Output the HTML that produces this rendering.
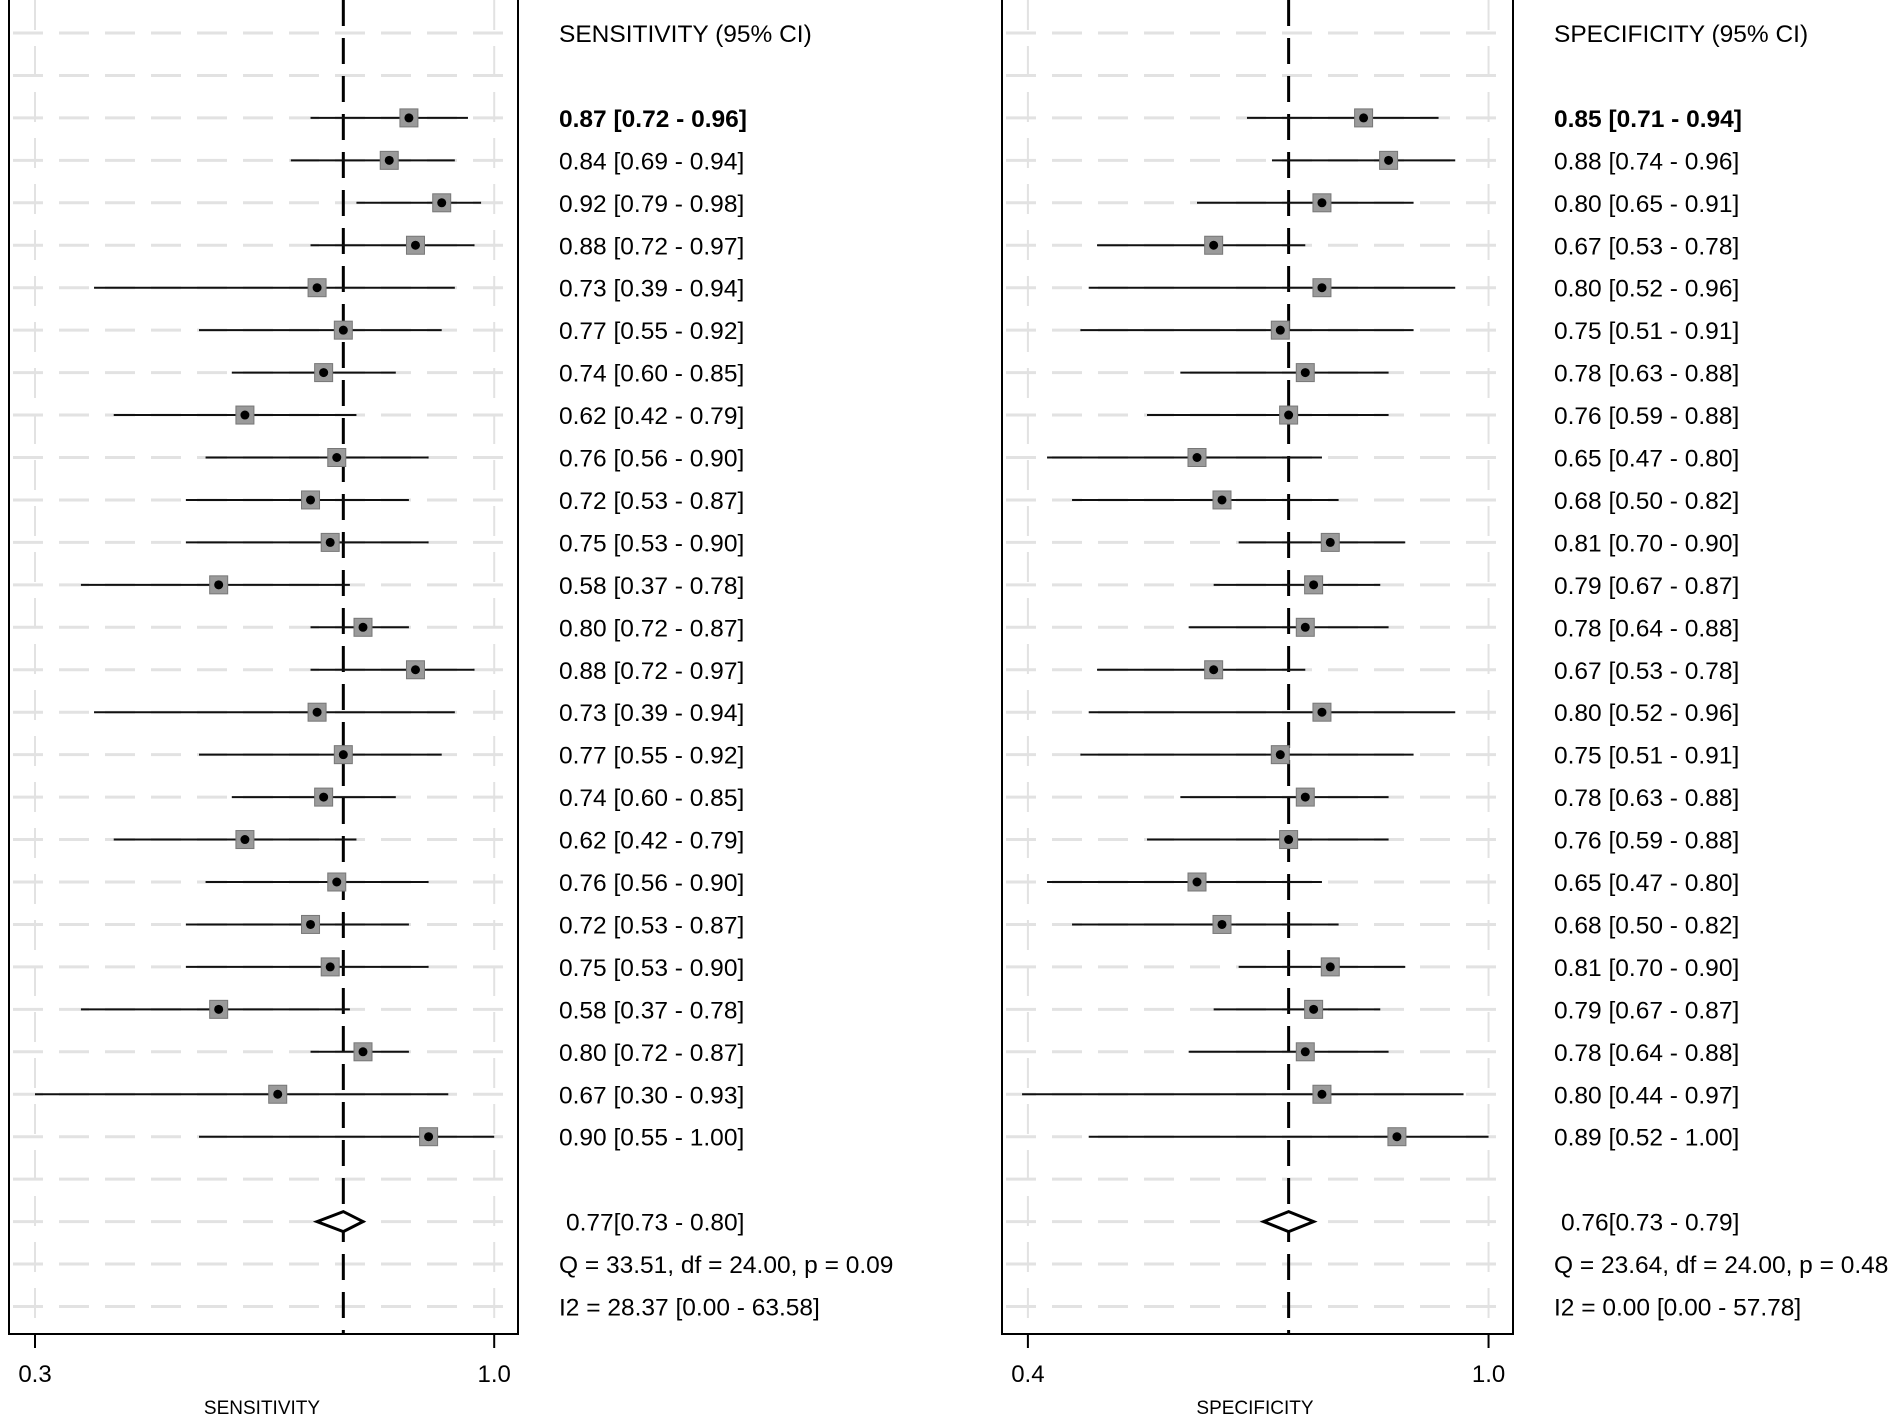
<!DOCTYPE html>
<html><head><meta charset="utf-8">
<style>
html,body{margin:0;padding:0;background:#fff;}
svg{display:block;font-family:"Liberation Sans",Arial,sans-serif;}
</style></head>
<body>
<svg id="chart" width="1902" height="1420" viewBox="0 0 1902 1420"></svg>
<script>
const sensEst=[0.87,0.84,0.92,0.88,0.73,0.77,0.74,0.62,0.76,0.72,0.75,0.58,0.80,0.88,0.73,0.77,0.74,0.62,0.76,0.72,0.75,0.58,0.80,0.67,0.90];
const sensLo=[0.72,0.69,0.79,0.72,0.39,0.55,0.60,0.42,0.56,0.53,0.53,0.37,0.72,0.72,0.39,0.55,0.60,0.42,0.56,0.53,0.53,0.37,0.72,0.30,0.55];
const sensHi=[0.96,0.94,0.98,0.97,0.94,0.92,0.85,0.79,0.90,0.87,0.90,0.78,0.87,0.97,0.94,0.92,0.85,0.79,0.90,0.87,0.90,0.78,0.87,0.93,1.00];
const specEst=[0.85,0.88,0.80,0.67,0.80,0.75,0.78,0.76,0.65,0.68,0.81,0.79,0.78,0.67,0.80,0.75,0.78,0.76,0.65,0.68,0.81,0.79,0.78,0.80,0.89];
const specLo=[0.71,0.74,0.65,0.53,0.52,0.51,0.63,0.59,0.47,0.50,0.70,0.67,0.64,0.53,0.52,0.51,0.63,0.59,0.47,0.50,0.70,0.67,0.64,0.44,0.52];
const specHi=[0.94,0.96,0.91,0.78,0.96,0.91,0.88,0.88,0.80,0.82,0.90,0.87,0.88,0.78,0.96,0.91,0.88,0.88,0.80,0.82,0.90,0.87,0.88,0.97,1.00];
const sensSummary=[0.77,0.73,0.80];
const specSummary=[0.76,0.73,0.79];
const sensTickVals=[0.3,1.0];
const sensTickLabels=["0.3","1.0"];
const specTickVals=[0.447,1.0];
const specTickLabels=["0.4","1.0"];
const sensStats=["Q = 33.51, df = 24.00, p =  0.09","I2 = 28.37 [0.00 - 63.58]"];
const specStats=["Q = 23.64, df = 24.00, p =  0.48","I2 = 0.00 [0.00 - 57.78]"];

const NS="http://www.w3.org/2000/svg";
const svg=document.getElementById('chart');
function mk(t,a,p){const e=document.createElementNS(NS,t);for(const k in a)e.setAttribute(k,a[k]);(p||svg).appendChild(e);return e;}
const rowY=k=>33+k*42.45;
const f2=v=>v.toFixed(2);
const FS=24.5;

function panel(cfg){
  const g=mk('g',{});
  
  
  const x=v=>cfg.x0+(v-cfg.v0)*cfg.slope;
  const bottom=1334;
  for(let k=0;k<=30;k++){
    const l=mk('line',{x1:cfg.left+4,x2:cfg.right-4,y1:rowY(k),y2:rowY(k),stroke:'#e2e2e2','stroke-width':3,'stroke-dasharray':'30 16'},g);
    
    
  }
  cfg.ticks.forEach(t=>{
    const l=mk('line',{x1:x(t),x2:x(t),y1:0,y2:bottom,stroke:'#e2e2e2','stroke-width':2,'stroke-dasharray':'30 16'},g);
    
    
  });
  const fr=mk('path',{d:`M${cfg.left} 0 V${bottom} H${cfg.right} V0`,fill:'none',stroke:'#000','stroke-width':2},g);
  
  
  const rl=mk('line',{x1:x(cfg.summary[0]),x2:x(cfg.summary[0]),y1:0,y2:bottom,stroke:'#000','stroke-width':3,'stroke-dasharray':'26 12'},g);
  
  
  cfg.ticks.forEach((t,i)=>{
    const tk=mk('line',{x1:x(t),x2:x(t),y1:bottom,y2:bottom+14,stroke:'#000','stroke-width':2},g);
    
    
    const tl=mk('text',{x:x(t),y:1382,'font-size':24,'text-anchor':'middle',fill:'#000'},g);
    tl.textContent=cfg.tickLabels[i];
    
    
  });
  const at=mk('text',{x:cfg.titleX,y:1414,'font-size':19,'text-anchor':'middle',fill:'#000'},g);
  at.textContent=cfg.title;
  
  
  const hd=mk('text',{x:cfg.textX,y:42,'font-size':FS,fill:'#000'},g);
  hd.textContent=cfg.title+' (95% CI)';
  
  
  cfg.est.forEach((e,i)=>{
    const y=rowY(i+2);
    const ci=mk('line',{x1:x(cfg.lo[i]),x2:x(cfg.hi[i]),y1:y,y2:y,stroke:'#111','stroke-width':2},g);
    
    
    const sq=mk('rect',{x:x(e)-9,y:y-9,width:18,height:18,fill:'#9a9a9a',stroke:'#777','stroke-width':1},g);
    
    
    const dt=mk('circle',{cx:x(e),cy:y,r:4.5,fill:'#000'},g);
    
    
    const tx=mk('text',{x:cfg.textX,y:y+9,'font-size':FS,fill:'#000','font-weight':i===0?'bold':'normal'},g);
    tx.textContent=`${f2(e)} [${f2(cfg.lo[i])} - ${f2(cfg.hi[i])}]`;
    
    
  });
  const sy=rowY(28);const s=cfg.summary;
  const dm=mk('polygon',{points:`${x(s[1])},${sy} ${x(s[0])},${sy-10} ${x(s[2])},${sy} ${x(s[0])},${sy+10}`,fill:'#fff',stroke:'#000','stroke-width':3},g);
  
  
  const st=mk('text',{x:cfg.textX+7,y:sy+9,'font-size':FS,fill:'#000'},g);
  st.textContent=`${f2(s[0])}[${f2(s[1])} - ${f2(s[2])}]`;
  
  
  cfg.stats.forEach((t,i)=>{
    const q=mk('text',{x:cfg.textX,y:rowY(29+i)+9,'font-size':FS,fill:'#000'},g);
    q.textContent=t;
    
    
  });
}
panel({name:'sensitivity',title:'SENSITIVITY',left:9,right:518,x0:35,v0:0.3,slope:656,ticks:sensTickVals,tickLabels:sensTickLabels,titleX:262,textX:559,est:sensEst,lo:sensLo,hi:sensHi,summary:sensSummary,stats:sensStats});
panel({name:'specificity',title:'SPECIFICITY',left:1002,right:1513,x0:1197,v0:0.65,slope:833,ticks:specTickVals,tickLabels:specTickLabels,titleX:1255,textX:1554,est:specEst,lo:specLo,hi:specHi,summary:specSummary,stats:specStats});
</script>
</body></html>
